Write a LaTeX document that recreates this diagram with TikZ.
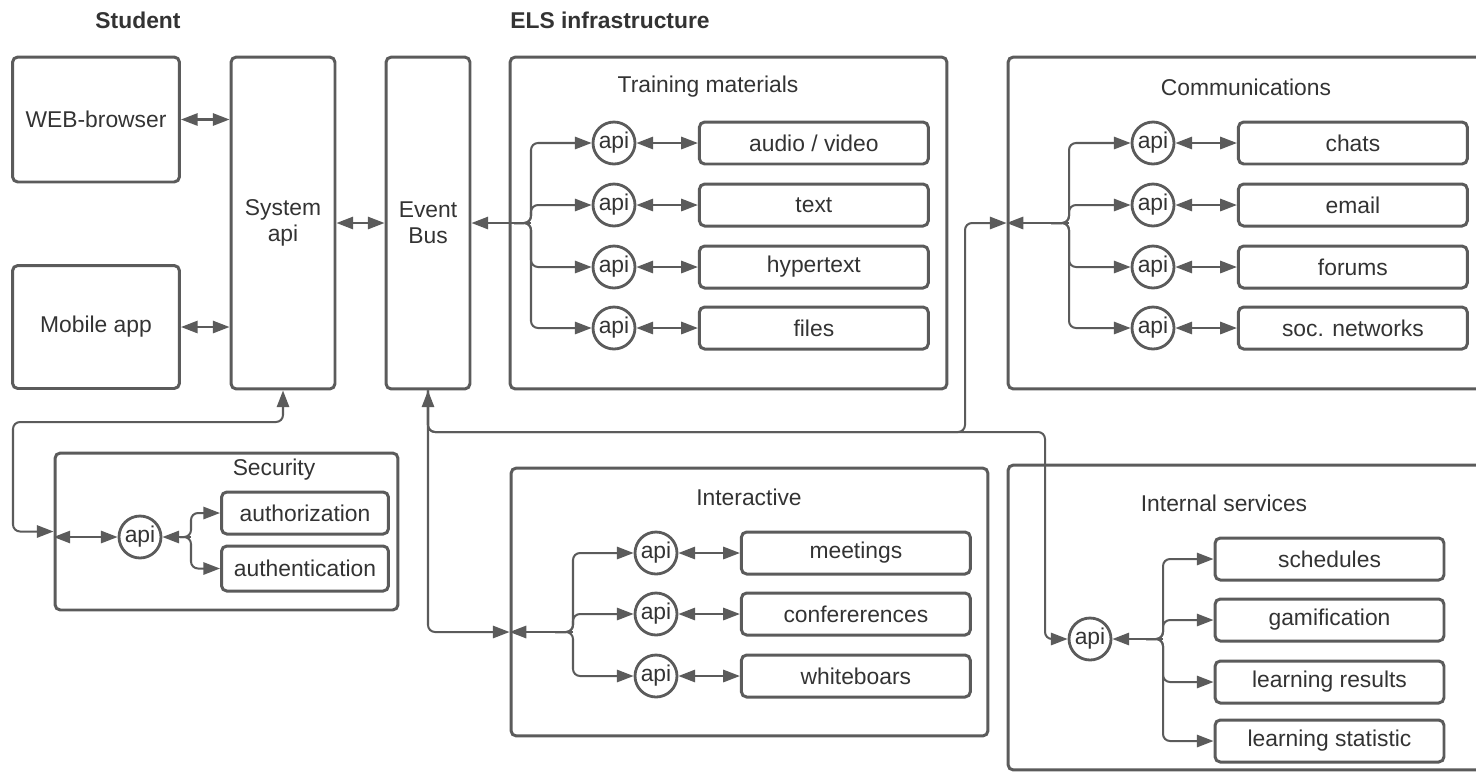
\documentclass[tikz,border=0pt]{standalone}
\usepackage{fontspec}
\setmainfont{Liberation Sans}
\usepackage{xcolor}
\usepackage{tikz}
\usetikzlibrary{positioning,arrows.meta}
\definecolor{elsline}{HTML}{5B5B5B}
\definecolor{elstext}{HTML}{333333}

\begin{document}
\begin{tikzpicture}[x=0.02cm, y=-0.02cm, font=\fontsize{13}{15}\selectfont, >={Triangle[length=9.5pt,width=7pt]},
    els block/.style={draw=elsline, line width=1.7pt, rounded corners=3pt, align=center, text=elstext, inner sep=0pt},
    els item/.style={els block, minimum width=4.58cm, minimum height=0.84cm},
    els api/.style={circle, draw=elsline, line width=1.6pt, minimum size=0.84cm, inner sep=0pt, text=elstext},
    els title/.style={text=elstext},
    els head/.style={text=elstext, font=\fontsize{13}{15}\selectfont\bfseries},
    els link/.style={draw=elsline, line width=1.15pt, rounded corners=4pt},
    node distance=1.23cm]
    \useasboundingbox (0,0) rectangle (1476,772);

    \node[els head] (student) at (138,20) {Student};
    \node[els head] (infra) at (610,20) {ELS infrastructure};

    % student side
    \node[els block, minimum width=3.34cm, minimum height=2.5cm] (web) at (96,119.5) {WEB-browser};
    \node[els block, minimum width=3.34cm, minimum height=2.46cm] (mob) at (96,327) {Mobile app};
    \node[els block, minimum width=2.08cm, minimum height=6.64cm] (sys) at (283,223) {System\\api};
    \node[els block, minimum width=1.68cm, minimum height=6.64cm] (bus) at (428,223) {Event\\Bus};

    % training materials
    \node[els block, minimum width=8.74cm, minimum height=6.64cm] (tm) at (728.5,223) {};
    \node[els title] (tmtitle) at (708,87) {Training materials};
    \node[els api] (tmapi1) at (614,143) {api};
    \node[els api] (tmapi2) at (614,205) {api};
    \node[els api] (tmapi3) at (614,267) {api};
    \node[els api] (tmapi4) at (614,328) {api};
    \node[els item, right=of tmapi1] (tmitem1) {audio / video};
    \node[els item, right=of tmapi2] (tmitem2) {text};
    \node[els item, right=of tmapi3] (tmitem3) {hypertext};
    \node[els item, right=of tmapi4] (tmitem4) {files};
    \coordinate (tmjoin) at (531,223);
    \coordinate (tmfork) at (514,223);

    % communications
    \node[els block, minimum width=9.84cm, minimum height=6.64cm] (cm) at (1254,223) {};
    \node[els title] (cmtitle) at (1246,87) {Communications};
    \node[els api] (cmapi1) at (1153,143) {api};
    \node[els api] (cmapi2) at (1153,205) {api};
    \node[els api] (cmapi3) at (1153,267) {api};
    \node[els api] (cmapi4) at (1153,328) {api};
    \node[els item, right=of cmapi1] (cmitem1) {chats};
    \node[els item, right=of cmapi2] (cmitem2) {email};
    \node[els item, right=of cmapi3] (cmitem3) {forums};
    \node[els item, right=of cmapi4] (cmitem4) {soc. networks};
    \coordinate (cmjoin) at (1069,223);
    \coordinate (cmfork) at (1051,223);

    % interactive
    \node[els block, minimum width=9.54cm, minimum height=5.36cm] (ia) at (749.5,602) {};
    \node[els title] (iatitle) at (749,497) {Interactive};
    \node[els api] (iaapi1) at (656,553) {api};
    \node[els api] (iaapi2) at (656,614) {api};
    \node[els api] (iaapi3) at (656,676) {api};
    \node[els item, right=of iaapi1] (iaitem1) {meetings};
    \node[els item, right=of iaapi2] (iaitem2) {confererences};
    \node[els item, right=of iaapi3] (iaitem3) {whiteboars};
    \coordinate (iajoin) at (573,632);
    \coordinate (iafork) at (555,632);

    % internal services
    \node[els block, minimum width=9.84cm, minimum height=6.1cm] (is) at (1254,617.5) {};
    \node[els title] (istitle) at (1224,503) {Internal services};
    \node[els api] (isapi) at (1090,639) {api};
    \node[els item] (isitem1) at (1329.5,559) {schedules};
    \node[els item] (isitem2) at (1329.5,620) {gamification};
    \node[els item] (isitem3) at (1329.5,682) {learning results};
    \node[els item] (isitem4) at (1329.5,741) {learning statistic};
    \coordinate (isjoin) at (1163,639);
    \coordinate (isfork) at (1146,639);

    % security
    \node[els block, minimum width=6.86cm, minimum height=3.14cm] (sec) at (226.5,531.5) {};
    \node[els title] (sectitle) at (274,470) {Security};
    \node[els api] (secapi) at (140,537) {api};
    \node[els block, minimum width=3.34cm, minimum height=0.84cm] (secitem1) at (305,513) {authorization};
    \node[els block, minimum width=3.34cm, minimum height=0.9cm] (secitem2) at (305,568.5) {authentication};
    \coordinate (secjoin) at (191,537);
    \coordinate (secfork) at (180,537);

    \coordinate (secturn) at (13,422);
    \coordinate (busturn) at (965,432);
    \coordinate (isturn) at (1045,432);

    \draw[els link, <->] (web.east) -- (sys.west |- web.east);
    \draw[els link, <->] (mob.east) -- (sys.west |- mob.east);
    \draw[els link, <->] (sys.east) -- (bus.west);

    \draw[els link, ->] (tmjoin) -- (bus.east |- tmjoin);
    \draw[els link, ->] (tmfork) -- (tmjoin) |- (tmapi1);
    \draw[els link, ->] (tmfork) -- (tmjoin) |- (tmapi2);
    \draw[els link, ->] (tmfork) -- (tmjoin) |- (tmapi3);
    \draw[els link, ->] (tmfork) -- (tmjoin) |- (tmapi4);
    \draw[els link, <->] (tmapi1) -- (tmitem1);
    \draw[els link, <->] (tmapi2) -- (tmitem2);
    \draw[els link, <->] (tmapi3) -- (tmitem3);
    \draw[els link, <->] (tmapi4) -- (tmitem4);

    \draw[els link, ->] (cmjoin) -- (cm.west |- cmjoin);
    \draw[els link, ->] (cmfork) -- (cmjoin) |- (cmapi1);
    \draw[els link, ->] (cmfork) -- (cmjoin) |- (cmapi2);
    \draw[els link, ->] (cmfork) -- (cmjoin) |- (cmapi3);
    \draw[els link, ->] (cmfork) -- (cmjoin) |- (cmapi4);
    \draw[els link, <->] (cmapi1) -- (cmitem1);
    \draw[els link, <->] (cmapi2) -- (cmitem2);
    \draw[els link, <->] (cmapi3) -- (cmitem3);
    \draw[els link, <->] (cmapi4) -- (cmitem4);

    \draw[els link, ->] (iajoin) -- (ia.west |- iajoin);
    \draw[els link, ->] (iafork) -- (iajoin) |- (iaapi1);
    \draw[els link, ->] (iafork) -- (iajoin) |- (iaapi2);
    \draw[els link, ->] (iafork) -- (iajoin) |- (iaapi3);
    \draw[els link, <->] (iaapi1) -- (iaitem1);
    \draw[els link, <->] (iaapi2) -- (iaitem2);
    \draw[els link, <->] (iaapi3) -- (iaitem3);

    \draw[els link, ->] (isjoin) -- (isapi);
    \draw[els link, ->] (isfork) -- (isjoin) |- (isitem1);
    \draw[els link, ->] (isfork) -- (isjoin) |- (isitem2);
    \draw[els link, ->] (isfork) -- (isjoin) |- (isitem3);
    \draw[els link, ->] (isfork) -- (isjoin) |- (isitem4);

    \draw[els link, <->] (sec.west |- secapi) -- (secapi);
    \draw[els link, ->] (secjoin) -- (secapi);
    \draw[els link, ->] (secfork) -- (secjoin) |- (secitem1);
    \draw[els link, ->] (secfork) -- (secjoin) |- (secitem2);

    % bus and system api to the services
    \draw[els link, <->] (sys.south) |- (secturn) |- (sec.west);
    \draw[els link, <->] (bus.south) |- (busturn) |- (cm.west);
    \draw[els link, ->] (bus.south) |- (isturn) |- (isapi);
    \draw[els link, ->] (bus.south) |- (ia.west |- iajoin);

\end{tikzpicture}
\end{document}
